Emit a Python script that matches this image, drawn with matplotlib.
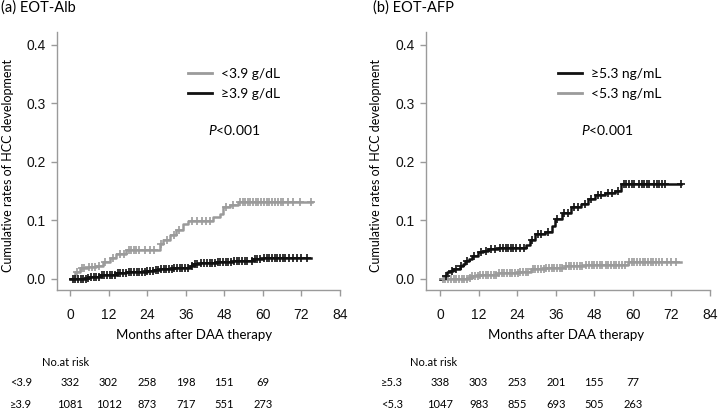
import numpy as np
import matplotlib as mpl
import matplotlib.pyplot as plt
from matplotlib.lines import Line2D

GREY = "#9b9b9b"; BLACK = "#111111"; SPINE = "#9a9a9a"
TXT = ["Lato", "DejaVu Sans"]
mpl.rcParams.update({"font.family": TXT, "mathtext.fontset": "custom",
                     "mathtext.it": "Lato:italic", "mathtext.rm": "Lato"})

# ---- data ----
months = [0, 12, 24, 36, 48, 60, 72, 84]
yticks = [0.0, 0.1, 0.2, 0.3, 0.4]
risk_months = [0, 12, 24, 36, 48, 60]

# (a) EOT-Alb
alb_lo_t = [0, 1.5, 3.0, 5.5, 8.2, 10.3, 12.4, 14.4, 17.5, 27.9, 29.0, 31.0, 33.0, 35.2, 36.8, 44.5, 46.6, 47.7, 49.7, 52.3]
alb_lo_y = [0, 0.012, 0.018, 0.020, 0.022, 0.029, 0.036, 0.042, 0.049, 0.060, 0.066, 0.074, 0.083, 0.094, 0.099, 0.105, 0.111, 0.123, 0.126, 0.131]
alb_lo_end = 75.2
alb_lo_cens = [2.2, 3.6, 4.5, 5.8, 6.9, 7.7, 9.1, 11.0, 13.3, 15.6, 16.8, 18.2, 19.0, 19.8, 20.6, 21.5, 23.2, 24.8, 26.0,
               28.4, 30.1, 32.2, 34.0, 38.0, 39.5, 41.2, 42.3, 43.5, 48.6, 50.8, 53.0, 53.8, 54.5, 55.3, 56.1, 57.0,
               57.8, 58.6, 59.5, 60.3, 61.2, 62.0, 62.9, 63.8, 64.7, 65.5, 66.4, 67.8, 69.5, 71.5, 75.0]
alb_hi_t = [0, 5.0, 6.0, 9.2, 11.5, 14.4, 17.5, 21.0, 23.8, 26.0, 27.9, 30.0, 32.0, 36.2, 37.3, 38.3, 40.4, 45.6, 50.8, 56.0, 57.0, 60.0]
alb_hi_y = [0, 0.001, 0.003, 0.006, 0.007, 0.009, 0.011, 0.012, 0.013, 0.015, 0.016, 0.017, 0.018, 0.019, 0.022, 0.025, 0.027, 0.029, 0.030, 0.031, 0.034, 0.035]
alb_hi_end = 75.0
alb_hi_cens = [0.8, 1.6, 2.4, 3.3, 4.1, 4.9, 5.7, 6.6, 7.4, 8.2, 9.0, 9.9, 10.7, 11.6, 12.4, 13.2, 14.0, 14.9, 15.7,
               16.6, 17.4, 18.2, 19.1, 19.9, 20.7, 21.6, 22.4, 23.2, 24.1, 24.9, 25.7, 26.6, 27.4, 28.2, 29.1, 29.9,
               30.8, 31.6, 32.4, 33.3, 34.1, 34.9, 35.8, 36.6, 37.9, 38.8, 39.6, 40.9, 41.8, 42.6, 43.5, 44.3, 45.1,
               46.0, 46.8, 47.7, 48.5, 49.3, 50.2, 51.0, 51.9, 52.7, 53.6, 54.4, 55.2, 56.5, 57.5, 58.3, 59.1, 60.4,
               61.2, 62.0, 62.8, 63.7, 64.5, 65.3, 66.2, 67.0, 68.2, 69.5, 70.6, 72.0, 73.6]

# (b) EOT-AFP
afp_hi_t = [0, 1.3, 2.1, 3.2, 4.1, 6.2, 7.0, 7.8, 9.0, 9.8, 11.9, 13.5, 15.0, 18.1, 26.9, 27.9, 29.5, 32.6, 34.7, 35.7,
            37.8, 40.9, 44.0, 46.0, 48.1, 51.2, 54.3, 56.4]
afp_hi_y = [0, 0.005, 0.011, 0.014, 0.017, 0.021, 0.025, 0.030, 0.034, 0.038, 0.046, 0.048, 0.050, 0.053, 0.057, 0.067,
            0.076, 0.079, 0.090, 0.102, 0.113, 0.122, 0.127, 0.136, 0.143, 0.147, 0.150, 0.162]
afp_hi_end = 75.0
afp_hi_cens = [1.8, 3.6, 5.0, 6.6, 8.4, 10.5, 12.6, 14.2, 16.0, 17.0, 18.8, 19.6, 20.4, 21.2, 22.0, 22.8, 23.6, 25.0,
               26.0, 28.6, 30.4, 31.5, 33.5, 36.5, 38.6, 39.8, 41.8, 42.8, 45.0, 47.0, 49.3, 50.2, 52.3, 53.4, 55.3,
               57.2, 58.0, 58.8, 59.6, 60.4, 61.9, 62.7, 63.5, 64.3, 65.1, 66.6, 67.4, 68.2, 69.0, 70.0, 75.0]
afp_lo_t = [0, 8.8, 9.8, 12.0, 14.0, 18.1, 24.3, 28.4, 32.6, 38.8, 45.0, 51.2, 58.4]
afp_lo_y = [0, 0.001, 0.005, 0.006, 0.007, 0.009, 0.011, 0.016, 0.019, 0.021, 0.023, 0.024, 0.028]
afp_lo_end = 75.0
afp_lo_cens = [0.9, 1.7, 2.5, 3.4, 4.2, 5.0, 5.9, 6.7, 7.5, 8.4, 9.2, 10.0, 10.9, 11.7, 12.5, 13.4, 14.2, 15.0, 15.9,
               16.7, 17.5, 18.4, 19.2, 20.0, 20.9, 21.7, 22.5, 23.4, 24.2, 25.0, 25.9, 26.7, 27.5, 28.8, 29.7, 30.5,
               31.3, 32.2, 33.0, 33.9, 34.7, 35.5, 36.4, 37.2, 38.0, 39.3, 40.1, 40.9, 41.8, 42.6, 43.4, 44.3, 45.5,
               46.3, 47.2, 48.0, 48.8, 49.7, 50.5, 51.6, 52.4, 53.3, 54.1, 54.9, 55.8, 56.6, 57.4, 58.8, 59.6, 60.5,
               61.3, 62.1, 63.0, 63.8, 64.6, 65.5, 66.3, 67.1, 68.0, 69.2, 70.5, 72.0, 73.5]

alb_risk_lab = ["<3.9", "≥3.9"]
alb_risk = [[332, 302, 258, 198, 151, 69], [1081, 1012, 873, 717, 551, 273]]
afp_risk_lab = ["≥5.3", "<5.3"]
afp_risk = [[338, 303, 253, 201, 155, 77], [1047, 983, 855, 693, 505, 263]]

W, H = 718, 409
fig = plt.figure(figsize=(W / 100, H / 100), dpi=100)
fx = lambda px: px / W
fy = lambda py: 1 - py / H


def km(ax, t, y, end, cens, color):
    ax.step(list(t) + [end], list(y) + [y[-1]], where="post", color=color, lw=1.8, zorder=3)
    idx = np.searchsorted(t, cens, side="right") - 1
    ax.plot(cens, np.array(y)[idx], ls="none", marker="+", ms=5.5, mew=1.2, color=color, zorder=4)


def panel(left, width, xmin, curves, handles, labels, leg_x, p_x):
    ax = fig.add_axes([fx(left), fy(290), width / W, 258 / H])
    for c in curves:
        km(ax, *c)
    ax.set_xlim(xmin, 84); ax.set_ylim(-0.0193, 0.4217)
    ax.set_xticks(months); ax.set_yticks(yticks)
    ax.set_yticklabels([f"{v:.1f}" for v in yticks])
    for s in ["top", "right"]:
        ax.spines[s].set_visible(False)
    for s in ["left", "bottom"]:
        ax.spines[s].set_color(SPINE); ax.spines[s].set_linewidth(1.0)
    ax.tick_params(axis="both", direction="out", length=4, width=1, color=SPINE, labelsize=10)
    ax.tick_params(axis="x", pad=9); ax.tick_params(axis="y", pad=4)
    for lb in ax.get_xticklabels() + ax.get_yticklabels():
        lb.set_fontfamily("Liberation Sans"); lb.set_color("#111111")
    ax.legend(handles=handles, labels=labels, loc="upper left", bbox_to_anchor=(leg_x, 0.86),
              frameon=False, borderpad=0, borderaxespad=0, handlelength=1.75, handletextpad=0.6,
              labelspacing=0.55, prop={"family": TXT, "size": 10})
    ax.text(p_x, 0.62, "$\\mathit{P}$<0.001", transform=ax.transAxes, fontsize=10, va="center")
    return ax


g = Line2D([], [], color=GREY, lw=2)
k = Line2D([], [], color=BLACK, lw=2)
ax1 = panel(57, 283, -4.05,
            [(alb_lo_t, alb_lo_y, alb_lo_end, alb_lo_cens, GREY), (alb_hi_t, alb_hi_y, alb_hi_end, alb_hi_cens, BLACK)],
            [g, k], ["<3.9 g/dL", "≥3.9 g/dL"], 0.463, 0.534)
ax2 = panel(426, 284, -4.36,
            [(afp_lo_t, afp_lo_y, afp_lo_end, afp_lo_cens, GREY), (afp_hi_t, afp_hi_y, afp_hi_end, afp_hi_cens, BLACK)],
            [k, g], ["≥5.3 ng/mL", "<5.3 ng/mL"], 0.465, 0.546)

for ax, tx, title, ylx, xlx, rl, rv, nx in [
        (ax1, 1, "(a) EOT-Alb", 8, 194, alb_risk_lab, alb_risk, 42),
        (ax2, 373, "(b) EOT-AFP", 376, 566, afp_risk_lab, afp_risk, 410)]:
    fig.text(fx(tx), fy(8), title, fontsize=10.5, va="center", ha="left")
    fig.text(fx(ylx), fy(165), "Cumulative rates of HCC development", rotation=90,
             fontsize=9, va="center", ha="center")
    fig.text(fx(xlx), fy(335), "Months after DAA therapy", fontsize=9.5, va="center", ha="center")
    fig.text(fx(nx), fy(363), "No.at risk", fontsize=8, va="center", ha="left")
    lab_x = 10 if ax is ax1 else 381
    for row, (lab, vals) in enumerate(zip(rl, rv)):
        py = fy(382 + 22 * row)
        fig.text(fx(lab_x), py, lab, fontsize=8, va="center", ha="left")
        for m, v in zip(risk_months, vals):
            xf = fig.transFigure.inverted().transform(ax.transData.transform((m, 0)))[0]
            fig.text(xf, py, str(v), fontsize=8, va="center", ha="center")

fig.savefig("out.png", dpi=100)
